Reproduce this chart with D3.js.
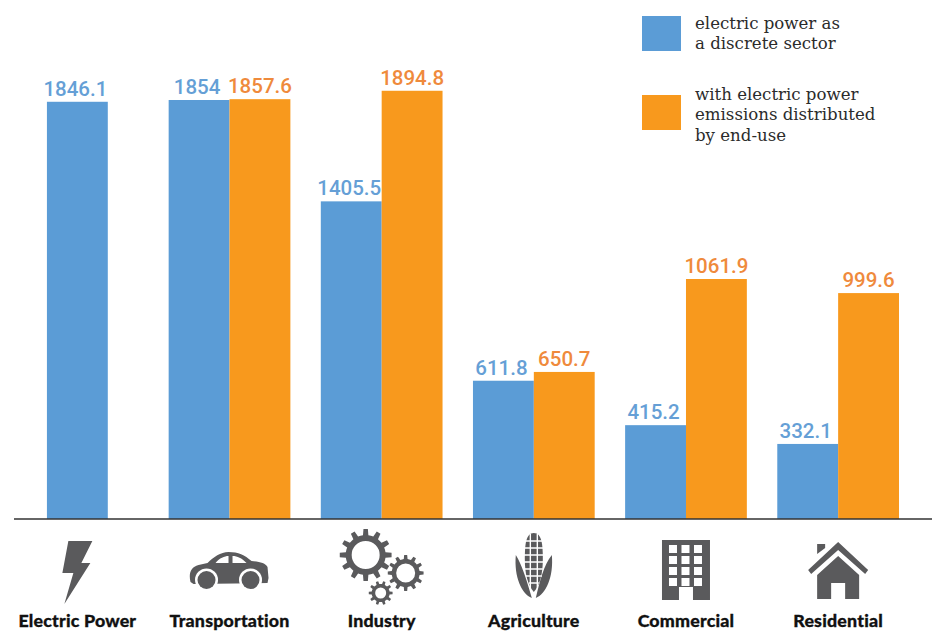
<!DOCTYPE html>
<html>
<head>
<meta charset="utf-8">
<script src="https://cdn.jsdelivr.net/npm/d3@7"></script>
<style>
  html, body { margin: 0; padding: 0; background: #fff; }
  svg { display: block; }
</style>
</head>
<body>
<div id="chart"></div>
<script>
// Data
const categories = ["Electric Power", "Transportation", "Industry", "Agriculture", "Commercial", "Residential"];
const discrete = [1846.1, 1854, 1405.5, 611.8, 415.2, 332.1];
const endUse = [null, 1857.6, 1894.8, 650.7, 1061.9, 999.6];
const legendLabels = [
  ["electric power as", "a discrete sector"],
  ["with electric power", "emissions distributed", "by end-use"]
];

const blue = "#5b9cd6", orange = "#f8991d";
const blueText = "#659fd6", orangeText = "#ef8a3c";
const iconGrey = "#5a5a5c";

const width = 937, height = 634, baseline = 519;

const svg = d3.select("#chart")
  .append("svg")
  .attr("width", width)
  .attr("height", height)
  .style("background", "#fff");

// Scales
const x = d3.scaleBand()
  .domain(categories)
  .range([16.5, 899])
  .paddingInner(0.2);

const y = d3.scaleLinear()
  .domain([0, 2000])
  .range([baseline, baseline - 452]);

// Builds one row per drawn bar, the lone bar of a category gets centered
const rows = [];
categories.forEach(function (c, i) {
  const half = x.bandwidth() / 2;
  if (endUse[i] === null) {
    rows.push({ cat: c, value: discrete[i], x0: x(c) + half / 2, w: half, kind: "blue" });
  } else {
    rows.push({ cat: c, value: discrete[i], x0: x(c), w: half, kind: "blue" });
    rows.push({ cat: c, value: endUse[i], x0: x(c) + half, w: half, kind: "orange" });
  }
});

// Bars
svg.selectAll("rect.bar")
  .data(rows)
  .join("rect")
  .attr("class", "bar")
  .attr("x", d => d.x0)
  .attr("y", d => y(d.value))
  .attr("width", d => d.w)
  .attr("height", d => y(0) - y(d.value))
  .attr("fill", d => d.kind === "blue" ? blue : orange);

// Value labels
svg.selectAll("text.value")
  .data(rows)
  .join("text")
  .attr("class", "value")
  .attr("x", d => d.x0 + d.w / 2 + (d.kind === "blue" ? -2 : 0))
  .attr("y", d => y(d.value) - 6)
  .attr("text-anchor", "middle")
  .attr("font-family", "Roboto, sans-serif")
  .attr("font-weight", 500)
  .attr("font-size", 20.5)
  .attr("fill", d => d.kind === "blue" ? blueText : orangeText)
  .text(d => d.value);

// Baseline
svg.append("line")
  .attr("x1", 14)
  .attr("x2", 932)
  .attr("y1", baseline)
  .attr("y2", baseline)
  .attr("stroke", "#333")
  .attr("stroke-width", 1.5);

// Category labels
svg.selectAll("text.cat")
  .data(categories)
  .join("text")
  .attr("class", "cat")
  .attr("x", d => x(d) + x.bandwidth() / 2)
  .attr("y", 627)
  .attr("text-anchor", "middle")
  .attr("font-family", "Lato, sans-serif")
  .attr("font-weight", 900)
  .attr("font-size", 17.8)
  .attr("letter-spacing", 0.2)
  .attr("stroke", "#111")
  .attr("stroke-width", 0.3)
  .attr("fill", "#111")
  .text(d => d);

// Gear outline, used three times for the industry icon
function gear(cx, cy, outer, inner, hole, teeth) {
  let p = "";
  const step = Math.PI * 2 / teeth;
  for (let i = 0; i < teeth; i++) {
    const a = i * step;
    const pts = [[inner, a - step * 0.5], [inner, a - step * 0.26], [outer, a - step * 0.16], [outer, a + step * 0.16], [inner, a + step * 0.26]];
    pts.forEach(function (q, j) {
      p += (i === 0 && j === 0 ? "M" : "L") + (cx + q[0] * Math.cos(q[1])).toFixed(1) + " " + (cy + q[0] * Math.sin(q[1])).toFixed(1);
    });
  }
  p += "Z";
  p += `M${cx - hole} ${cy}a${hole} ${hole} 0 1 0 ${hole * 2} 0a${hole} ${hole} 0 1 0 ${-hole * 2} 0Z`;
  return p;
}

// Icons, drawn around the middle of each band
const icons = {
  "Electric Power": function (g) {
    g.append("path").attr("d", "M-9 -31L15 -31L4 -9L13 -9L-13 32L-4 1L-15 1Z");
  },
  "Transportation": function (g) {
    g.append("path").attr("d", "M-39 10C-41 2 -39 -5 -31 -7L-22 -9C-16 -15 -9 -20 -1 -20C9 -20 15 -17 22 -11C30 -10 36 -9 38 -5L39 6L38 11L-36 12Z");
    g.append("path").attr("fill", "#fff").attr("d", "M-14 -9C-10 -14 -5 -16 -1 -16L-1 -9ZM3 -16C8 -16 12 -14 17 -9L3 -9Z");
    [-23, 21].forEach(function (cx) {
      g.append("circle").attr("cx", cx).attr("cy", 8).attr("r", 11.5).attr("fill", "#fff");
      g.append("circle").attr("cx", cx).attr("cy", 8).attr("r", 9);
    });
  },
  "Industry": function (g) {
    g.append("path").attr("fill-rule", "evenodd").attr("d", gear(-16, -14, 26, 20, 14, 12));
    g.append("path").attr("fill-rule", "evenodd").attr("d", gear(24, 4, 18, 14, 9.5, 12));
    g.append("path").attr("fill-rule", "evenodd").attr("d", gear(-1, 24, 12, 9, 5.5, 10));
  },
  "Agriculture": function (g) {
    g.append("path").attr("d", "M0 -36C8 -36 9 -24 9 -10C9 5 6 16 0 23C-6 16 -9 5 -9 -10C-9 -24 -8 -36 0 -36Z");
    g.append("path").attr("d", "M-18 -14C-12 -4 -8 8 -2 29C-12 25 -20 8 -18 -14ZM18 -14C20 8 12 25 2 29C6 12 10 -4 18 -14Z");
    g.append("path").attr("stroke", "#fff").attr("stroke-width", 1.4).attr("fill", "none")
      .attr("d", "M-10 -28H10M-10 -21H10M-10 -14H10M-10 -7H10M-9 0H9M-8 7H8M-5 14H5M-3.5 -35V20M3.5 -35V20");
  },
  "Commercial": function (g) {
    g.append("path").attr("d", "M-24 -30H24V30H7V17H-7V30H-24Z");
    const grid = g.append("g").attr("fill", "#fff");
    d3.range(4).forEach(function (r) {
      d3.range(3).forEach(function (c) {
        grid.append("rect").attr("x", -17 + c * 12.5).attr("y", -25 + r * 11).attr("width", 8).attr("height", 8);
      });
    });
  },
  "Residential": function (g) {
    g.append("path").attr("d", "M-30 2L0 -26L30 2L27 6L0 -18L-27 6ZM-21 -14L-21 -24L-13 -24L-13 -20Z");
    g.append("path").attr("d", "M0 -12L21 7V31H7V15H-7V31H-21V7Z");
  }
};
const iconCenters = [572, 572, 569, 569, 570, 568];

categories.forEach(function (c, i) {
  const g = svg.append("g")
    .attr("transform", `translate(${x(c) + x.bandwidth() / 2}, ${iconCenters[i]})`)
    .attr("fill", iconGrey);
  icons[c](g);
});

// Legend
const legendY = [16, 95];
const lineY = [[29, 49], [100, 120, 141]];
legendLabels.forEach(function (lines, i) {
  svg.append("rect")
    .attr("x", 642)
    .attr("y", legendY[i])
    .attr("width", 39)
    .attr("height", 35)
    .attr("fill", i === 0 ? blue : orange);
  lines.forEach(function (t, j) {
    svg.append("text")
      .attr("x", 695)
      .attr("y", lineY[i][j])
      .attr("font-family", "'DejaVu Serif', serif")
      .attr("font-size", 16.6)
      .attr("fill", "#2b2b2b")
      .text(t);
  });
});
</script>
</body>
</html>
